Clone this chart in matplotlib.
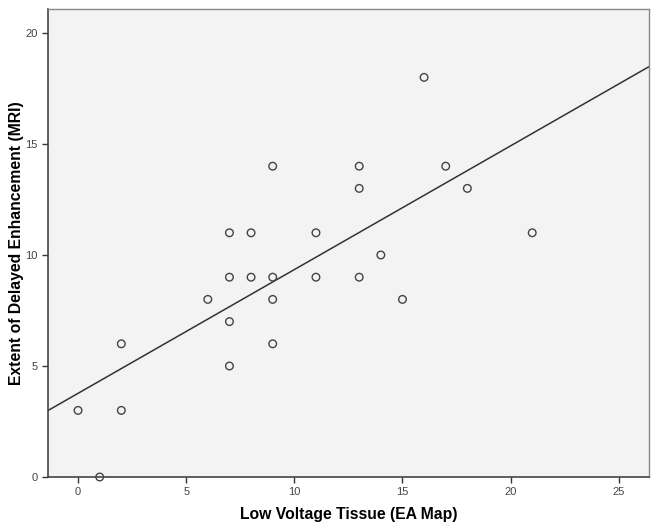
import numpy as np
from matplotlib import pyplot as plt

# low voltage tissue (EA map) vs delayed enhancement extent (MRI)
lvt = [0, 1, 2, 2, 6, 7, 7, 7, 7, 8, 8, 9, 9, 9, 9, 11, 11, 13, 13, 13, 14, 15, 16, 17, 18, 21]
de = [3, 0, 6, 3, 8, 5, 7, 9, 11, 11, 9, 14, 9, 8, 6, 11, 9, 14, 13, 9, 10, 8, 18, 14, 13, 11]
x_ticks = [0, 5, 10, 15, 20, 25]
y_ticks = [0, 5, 10, 15, 20]

plt.rcParams['font.family'] = ['Liberation Sans', 'DejaVu Sans']

fig = plt.figure(figsize=(6.6, 5.31), dpi=100)
ax = fig.add_axes([48/660, 1-477/531, (649-48)/660, (477-9)/531])
ax.set_facecolor('#f3f3f3')

xmin, xmax = -1.39, 26.4
ax.set_xlim(xmin, xmax)
ax.set_ylim(0, 21.08)

# fit line
k, b = np.polyfit(lvt, de, 1)
xx = np.array([xmin, xmax])
ax.plot(xx, k*xx + b, color='#333333', lw=1.1, zorder=2)

ax.scatter(lvt, de, s=30, facecolors='none', edgecolors='#444444', linewidths=1.0, zorder=3, clip_on=False)

ax.set_xticks(x_ticks)
ax.set_yticks(y_ticks)
ax.tick_params(labelsize=8, length=4, width=1, color='#333333', labelcolor='#444444')
for s in ['left', 'bottom']:
    ax.spines[s].set_color('#444444')
    ax.spines[s].set_linewidth(1.2)
for s in ['top', 'right']:
    ax.spines[s].set_color('#888888')
    ax.spines[s].set_linewidth(1.0)

ax.set_xlabel('Low Voltage Tissue (EA Map)', fontsize=11.3, fontweight='bold', labelpad=7)
ax.set_ylabel('Extent of Delayed Enhancement (MRI)', fontsize=11.3, fontweight='bold', labelpad=1)

plt.savefig('out.png', dpi=100)
